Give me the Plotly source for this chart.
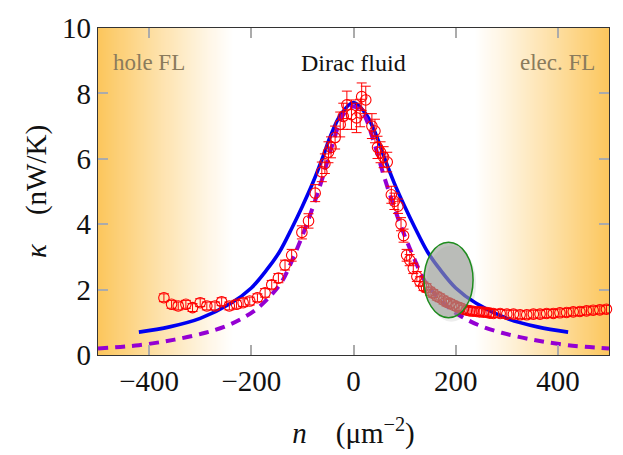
import numpy as np
import plotly.graph_objects as go

# Measured thermal conductance vs carrier density
n_meas = [-371, -356, -343, -328, -315, -300, -287, -271, -258, -243, -229, -216, -203,
          -188, -173, -160, -147, -134, -121, -101, -88, -75, -62, -56, -49, -44, -36,
          -26, -20, -13, -4, 6, 13, 16, 24, 36, 42, 47, 53, 59, 66, 74, 80, 87, 93, 98,
          104, 110, 117, 124, 130, 137, 143, 150, 156, 163, 169, 176, 182, 189, 195, 202,
          208, 215, 222, 228, 234, 241, 247, 254, 261, 267, 274, 287, 300, 313, 326, 339,
          352, 365, 378, 391, 404, 417, 430, 443, 456, 469, 482, 495, 505]
kappa_meas = [1.75, 1.55, 1.50, 1.55, 1.45, 1.60, 1.50, 1.50, 1.63, 1.50, 1.55, 1.60, 1.65,
              1.75, 1.90, 2.15, 2.35, 2.75, 3.05, 3.75, 4.10, 4.95, 5.60, 5.85, 6.20, 6.35, 6.65,
              7.05, 7.30, 7.65, 7.35, 7.25, 7.40, 7.90, 7.80, 7.00, 6.85, 6.35, 6.20, 6.05, 5.90,
              4.90, 4.70, 4.55, 4.00, 3.65, 3.05, 2.90, 2.65, 2.40, 2.25, 2.10, 2.05, 1.95, 1.88,
              1.80, 1.75, 1.68, 1.62, 1.58, 1.53, 1.48, 1.45, 1.40, 1.37, 1.35, 1.34, 1.33, 1.32,
              1.31, 1.30, 1.28, 1.27, 1.27, 1.25, 1.25, 1.23, 1.23, 1.25, 1.25, 1.27, 1.27, 1.29,
              1.30, 1.32, 1.33, 1.35, 1.37, 1.38, 1.40, 1.40]
kappa_err = [0.12, 0.12, 0.12, 0.12, 0.12, 0.12, 0.12, 0.12, 0.12, 0.12, 0.12, 0.12, 0.12,
             0.12, 0.13, 0.13, 0.14, 0.15, 0.18, 0.20, 0.22, 0.26, 0.30, 0.30, 0.32, 0.32, 0.35,
             0.38, 0.40, 0.42, 0.45, 0.45, 0.42, 0.42, 0.42, 0.38, 0.36, 0.34, 0.32, 0.32, 0.30,
             0.26, 0.25, 0.22, 0.20, 0.20, 0.18, 0.17, 0.16, 0.15, 0.14, 0.13, 0.13, 0.12, 0.12,
             0.12, 0.12, 0.12, 0.12, 0.12, 0.12, 0.12, 0.12, 0.12, 0.12, 0.12, 0.12, 0.12, 0.12,
             0.12, 0.12, 0.12, 0.12, 0.12, 0.12, 0.12, 0.12, 0.12, 0.12, 0.12, 0.12, 0.12, 0.12,
             0.12, 0.12, 0.12, 0.12, 0.12, 0.12, 0.12, 0.12]

# Hydrodynamic model (solid blue)
n_model = [-420, -360, -300, -240, -200, -170, -145, -120, -100, -80, -60, -45, -25, 0,
           25, 45, 60, 80, 100, 120, 145, 170, 200, 240, 300, 360, 420]
kappa_model = [0.70, 0.86, 1.12, 1.58, 2.05, 2.60, 3.15, 3.90, 4.55, 5.25, 6.05, 6.70, 7.35, 7.72,
               7.35, 6.70, 6.05, 5.25, 4.55, 3.90, 3.15, 2.60, 2.05, 1.58, 1.12, 0.86, 0.70]

# Alternative fit (dashed purple)
n_fit = [-500, -420, -350, -290, -250, -220, -190, -160, -140, -120, -100, -80, -60, -40, -20, 0,
         20, 40, 60, 80, 100, 120, 140, 160, 190, 220, 250, 290, 350, 420, 500]
kappa_fit = [0.20, 0.30, 0.47, 0.68, 0.88, 1.10, 1.40, 1.85, 2.25, 2.90, 3.65, 4.50, 5.45, 6.50, 7.35, 7.60,
             7.35, 6.50, 5.45, 4.50, 3.65, 2.90, 2.25, 1.85, 1.40, 1.10, 0.88, 0.68, 0.47, 0.30, 0.20]

region_labels = ["hole FL", "Dirac fluid", "elec. FL"]
region_pos = [-400, 0, 400]

SERIF = "Liberation Serif"
ORANGE = (252, 198, 92)

fig = go.Figure()

# Fermi-liquid shading: white in the middle, fading to orange towards both edges
gx = np.linspace(-500, 500, 501)
shade = np.clip((np.abs(gx) - 235) / 265, 0, 1) ** 1.1
fig.add_trace(go.Heatmap(
    x=gx, y=[0, 10], z=[shade, shade], zmin=0, zmax=1,
    colorscale=[[0, "rgb(255,255,255)"], [1, "rgb(%d,%d,%d)" % ORANGE]],
    showscale=False, hoverinfo="skip", zsmooth="best",
))

fig.add_trace(go.Scatter(
    x=n_model, y=kappa_model, mode="lines", line_shape="spline",
    line=dict(color="#0000f0", width=3.6), hoverinfo="skip",
))
fig.add_trace(go.Scatter(
    x=n_fit, y=kappa_fit, mode="lines", line_shape="spline",
    line=dict(color="#9400d3", width=4, dash="10px,7px"), hoverinfo="skip",
))
fig.add_trace(go.Scatter(
    x=n_meas, y=kappa_meas, mode="markers", cliponaxis=False,
    marker=dict(symbol="circle-open", size=10.5, color="#ff0000", line=dict(width=1.1)),
    error_y=dict(type="data", array=kappa_err, color="#ff0000", thickness=1, width=5),
))

# highlighted crossover region
fig.add_shape(type="circle", xref="x", yref="y", x0=143, x1=240, y0=1.02, y1=3.35,
              fillcolor="rgba(0,0,0,0.07)", line=dict(width=0), layer="above")
fig.add_shape(type="circle", xref="x", yref="y", x0=138, x1=234, y0=1.14, y1=3.45,
              fillcolor="rgba(155,158,151,0.62)", line=dict(color="#1e8c1e", width=1.5),
              layer="above")

for lbl, xp in zip(region_labels, region_pos):
    fig.add_annotation(
        x=xp, y=8.93, text=lbl, showarrow=False, xanchor="center", yanchor="middle",
        font=dict(family=SERIF, size=24 if xp == 0 else 23,
                  color="#111111" if xp == 0 else "#8a7b5c"),
    )

axis_common = dict(
    showgrid=False, zeroline=False, showline=True, linecolor="#333333", linewidth=1.2,
    mirror="ticks", ticks="inside", ticklen=10, tickwidth=1.5, tickcolor="#ababab",
    tickfont=dict(family=SERIF, size=29, color="#111111"),
    title_font=dict(family=SERIF, size=29, color="#111111"),
)
fig.update_xaxes(range=[-500, 500], tickvals=[-400, -200, 0, 200, 400],
                 title_text="<i>n</i>\u2003(μm<sup>−2</sup>)", title_standoff=26,
                 **axis_common)
fig.update_yaxes(range=[0, 10], tickvals=[0, 2, 4, 6, 8, 10],
                 title_text="<i>κ</i>\u2003(nW/K)", title_standoff=6,
                 **axis_common)

fig.update_layout(
    width=623, height=455, margin=dict(l=98, r=14, t=22, b=100),
    paper_bgcolor="white", plot_bgcolor="white", showlegend=False,
    font=dict(family=SERIF),
)

fig.write_html("out.html")
